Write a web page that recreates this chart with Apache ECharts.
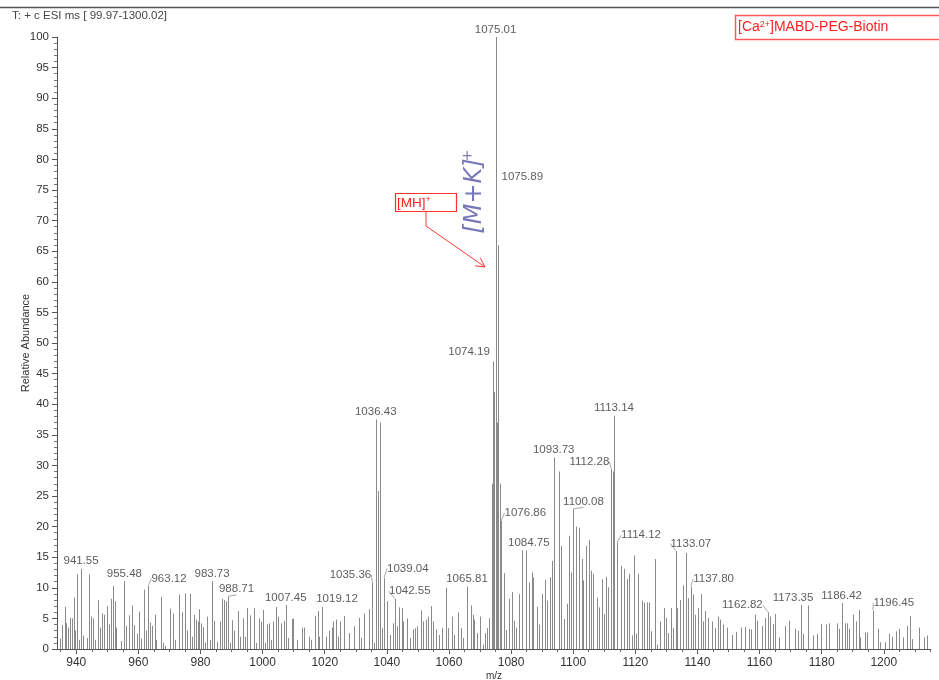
<!DOCTYPE html>
<html>
<head>
<meta charset="utf-8">
<script src="https://cdn.jsdelivr.net/npm/echarts@6/dist/echarts.min.js"></script>
<style>
  html, body { margin: 0; padding: 0; background: #fff; }
  #chart { width: 939px; height: 680px; }
</style>
</head>
<body>
<div id="chart"></div>
<script>
// Centroided ESI spectrum: m/z of each stick and its relative abundance (%)
const mz = [
  934.79, 935.5, 936.3, 936.8, 937.4, 938.1, 938.7, 939.2, 939.7, 940.2, 940.8, 941.55, 942.1, 943.4, 944.1, 944.8,
  945.3, 946.1, 947.1, 947.8, 948.4, 949.0, 949.8, 950.5, 951.2, 951.9, 952.4, 952.9, 954.3, 955.48, 956.0, 957.0,
  957.9, 958.6, 959.5, 960.1, 961.0, 961.7, 962.5, 963.12, 963.8, 964.4, 965.2, 965.8, 967.2, 967.9, 968.6, 970.2,
  971.1, 971.8, 973.0, 973.9, 975.0, 975.8, 976.5, 977.2, 977.9, 978.6, 979.1, 979.6, 980.3, 980.9, 981.5, 982.2,
  983.0, 983.73, 984.5, 985.3, 986.3, 987.0, 987.6, 988.1, 988.71, 989.4, 990.2, 990.9, 992.0, 992.7, 993.8, 994.4,
  995.0, 995.8, 997.3, 998.0, 998.8, 999.6, 1000.2, 1000.8, 1001.4, 1002.0, 1002.8, 1003.4, 1004.3, 1004.9, 1006.0, 1006.8,
  1007.45, 1008.3, 1009.4, 1009.9, 1011.0, 1012.7, 1013.4, 1014.9, 1015.5, 1016.9, 1017.8, 1018.3, 1019.12, 1020.4, 1021.3, 1022.3,
  1022.8, 1023.6, 1024.2, 1024.9, 1026.3, 1027.8, 1029.5, 1031.1, 1031.7, 1032.8, 1034.2, 1035.36, 1035.9, 1036.43, 1037.1, 1037.8,
  1038.6, 1039.04, 1039.98, 1041.0, 1041.9, 1042.55, 1043.2, 1043.9, 1044.8, 1045.3, 1046.4, 1047.5, 1048.3, 1049.1, 1049.8, 1050.9,
  1051.8, 1052.5, 1053.4, 1054.1, 1055.0, 1055.85, 1056.8, 1057.9, 1058.95, 1059.8, 1060.9, 1061.75, 1062.8, 1063.8, 1064.6, 1065.81,
  1067.0, 1067.65, 1068.2, 1068.9, 1070.0, 1070.9, 1071.6, 1072.2, 1072.9, 1073.8, 1074.0, 1074.19, 1074.55, 1075.01, 1075.4,
  1075.89, 1076.3, 1076.86, 1077.6, 1078.4, 1079.4, 1080.2, 1080.9, 1081.6, 1082.7, 1083.6, 1084.75, 1085.9, 1086.7,
  1087.2, 1088.3, 1089.1, 1090.0, 1090.9, 1091.7, 1092.6, 1093.3, 1093.73, 1095.3, 1096.0, 1097.1, 1098.0, 1098.6, 1099.4, 1100.08,
  1101.0, 1101.9, 1102.7, 1103.3, 1104.2, 1105.05, 1105.8, 1106.5, 1107.6, 1108.2, 1109.3, 1109.9, 1110.6, 1111.3, 1112.28, 1112.7,
  1113.14, 1114.12, 1115.4, 1116.4, 1117.2, 1118.1, 1119.05, 1119.7, 1120.2, 1121.0, 1122.0, 1122.8, 1123.65, 1124.4, 1125.1, 1126.4,
  1126.9, 1128.0, 1129.2, 1129.8, 1130.6, 1131.4, 1132.1, 1133.07, 1133.5, 1134.4, 1135.5, 1136.4, 1137.0, 1137.80, 1138.5, 1139.2,
  1140.1, 1141.1, 1141.8, 1142.5, 1143.5, 1144.6, 1145.7, 1146.5, 1147.3, 1148.3, 1149.6, 1151.0, 1152.3, 1154.0, 1155.4, 1156.7,
  1157.3, 1158.5, 1159.3, 1160.8, 1161.9, 1162.82, 1163.4, 1164.2, 1164.9, 1166.4, 1168.2, 1169.5, 1171.5, 1172.3, 1173.35, 1173.9,
  1175.5, 1177.3, 1178.4, 1179.7, 1181.4, 1182.4, 1184.9, 1185.6, 1186.42, 1187.55, 1188.3, 1188.9, 1190.2, 1191.0, 1192.0, 1192.4,
  1194.0, 1194.7, 1196.45, 1198.0, 1198.9, 1200.5, 1201.8, 1202.8, 1203.9, 1205.0, 1206.2, 1207.5, 1208.4, 1209.2, 1211.3, 1212.9,
  1213.8, 1215.1
];
const abundance = [
  1.7, 3.9, 6.9, 4.2, 3.5, 5.1, 5.0, 8.4, 3.0, 12.2, 1.5, 13.1, 2.2, 1.8, 12.2, 5.3,
  5.0, 1.5, 8.0, 3.5, 5.8, 5.6, 7.0, 4.0, 8.2, 10.3, 7.8, 3.5, 1.3, 11.1, 3.8, 5.5,
  7.1, 3.9, 2.5, 6.1, 1.7, 9.7, 3.0, 10.3, 4.3, 3.8, 5.6, 1.5, 8.5, 1.0, 0.5, 6.6,
  5.8, 1.5, 8.9, 6.0, 9.1, 3.0, 9.0, 2.0, 5.6, 4.8, 4.5, 6.5, 4.2, 3.6, 1.0, 5.3,
  1.5, 11.1, 4.6, 1.2, 4.5, 8.2, 8.0, 7.8, 8.6, 1.0, 4.7, 3.0, 6.2, 2.0, 5.0, 2.0,
  6.7, 5.5, 6.7, 1.0, 5.0, 4.5, 6.4, 1.0, 4.0, 4.2, 1.5, 4.5, 6.9, 5.3, 4.2, 4.6,
  7.2, 1.8, 4.9, 5.0, 1.5, 3.5, 3.5, 2.0, 1.5, 5.4, 6.2, 2.0, 6.9, 2.0, 3.0, 3.5,
  4.5, 4.8, 2.0, 4.5, 5.4, 2.6, 3.7, 5.1, 1.8, 5.8, 6.5, 10.9, 1.0, 37.5, 25.8, 37.0,
  3.4, 11.6, 7.8, 2.3, 4.2, 8.2, 3.7, 6.8, 6.7, 4.5, 5.0, 1.8, 3.2, 3.4, 3.7, 6.3,
  4.5, 4.8, 5.3, 7.0, 4.5, 3.2, 2.3, 3.4, 10.0, 3.4, 5.3, 2.3, 6.0, 3.4, 1.8, 10.2,
  7.1, 5.6, 4.8, 2.6, 5.3, 0.7, 2.6, 3.4, 5.0, 6.2, 27.0, 47.0, 42.0, 100.0, 37.0,
  66.0, 27.0, 21.0, 12.4, 3.1, 8.2, 9.3, 4.6, 3.5, 9.0, 16.1, 16.1, 10.9, 12.5,
  11.7, 6.9, 4.0, 9.0, 11.3, 7.9, 11.7, 14.4, 31.3, 29.0, 16.8, 4.9, 7.4, 18.5, 12.5, 22.9,
  20.0, 19.8, 14.7, 11.2, 16.9, 17.8, 12.8, 12.3, 8.4, 6.8, 11.4, 5.7, 11.8, 10.1, 29.4, 29.0,
  38.1, 17.4, 13.6, 13.1, 11.4, 12.3, 2.2, 15.3, 2.5, 12.3, 7.9, 7.6, 7.6, 7.6, 2.9, 14.7,
  0.7, 4.5, 6.7, 5.1, 2.6, 6.7, 3.4, 16.0, 6.7, 8.0, 10.4, 15.7, 8.3, 10.2, 8.9, 5.6,
  6.7, 9.0, 4.5, 6.2, 5.1, 4.5, 3.4, 5.3, 4.8, 4.0, 3.5, 2.3, 2.8, 3.5, 3.6, 3.3,
  3.2, 5.6, 4.6, 3.8, 5.1, 6.0, 5.3, 4.1, 5.7, 1.9, 3.8, 4.6, 3.3, 3.0, 7.2, 2.5,
  7.1, 2.2, 2.5, 4.1, 4.0, 4.2, 4.2, 3.3, 7.5, 4.2, 4.2, 3.3, 5.6, 4.5, 6.4, 1.9,
  2.7, 2.7, 6.3, 3.3, 1.1, 1.1, 2.5, 2.0, 2.9, 3.3, 1.9, 3.8, 5.4, 1.6, 3.5, 1.9,
  2.2, 1.4
];

// Peaks that carry an m/z annotation
const labelledPeaks = [
  941.55, 955.48, 963.12, 983.73, 988.71, 1007.45, 1019.12, 1035.36, 1036.43, 1039.04, 1042.55,
  1065.81, 1074.19, 1075.01, 1075.89, 1076.86, 1084.75, 1093.73, 1100.08, 1112.28, 1113.14,
  1114.12, 1133.07, 1137.80, 1162.82, 1173.35, 1186.42, 1196.45
];

// Axis ticks
const xTickLabels = [940, 960, 980, 1000, 1020, 1040, 1060, 1080, 1100, 1120, 1140, 1160, 1180, 1200];
const xMinorTicks = [935, 940, 945, 950, 955, 960, 965, 970, 975, 980, 985, 990, 995, 1000, 1005, 1010, 1015,
  1020, 1025, 1030, 1035, 1040, 1045, 1050, 1055, 1060, 1065, 1070, 1075, 1080, 1085, 1090, 1095, 1100,
  1105, 1110, 1115, 1120, 1125, 1130, 1135, 1140, 1145, 1150, 1155, 1160, 1165, 1170, 1175, 1180, 1185,
  1190, 1195, 1200, 1205, 1210, 1215];

// Where an annotation is pushed aside from its peak top (px), and whether a leader is drawn
const labelShift = {
  963.12: [21, 0, true], 988.71: [9, 0, true], 1019.12: [15, 0, false], 1035.36: [-22, 0, true],
  1039.04: [24, -2, true], 1042.55: [15, 0, true], 1074.19: [-24, -2, false], 1075.89: [24, -61, false],
  1076.86: [24, 0, true], 1084.75: [3, 0, false], 1100.08: [10, 0, true], 1112.28: [-22, 0, true],
  1114.12: [24, 0, true], 1133.07: [15, 0, true], 1137.80: [23, 0, true], 1162.82: [-26, 0, true],
  1173.35: [-8, 0, false], 1196.45: [21, 0, true]
};

const FONT = "'Liberation Sans', Arial, sans-serif";
const X_MIN = 933.8, X_MAX = 1215.2;

const chart = echarts.init(document.getElementById('chart'), null, { renderer: 'canvas' });

const sticks = mz.map((m, i) => [m, abundance[i]]);
const labelData = labelledPeaks.map(m => {
  const s = labelShift[m];
  return { value: [m, abundance[mz.indexOf(m)]], labelLine: { show: !!(s && s[2]) } };
});

// arrow from the [MH]+ box toward the molecular ion cluster
const arrowTip = [485, 267];
const arrowHead = [[475, 265.8], arrowTip, [480.4, 258.1]];

chart.setOption({
  animation: false,
  backgroundColor: '#fff',
  grid: { left: 57, right: 8, top: 37, bottom: 31, outerBoundsMode: 'none', containLabel: false },
  xAxis: [
    {
      type: 'value', min: X_MIN, max: X_MAX,
      name: 'm/z', nameLocation: 'middle', nameGap: 22, nameMoveOverlap: false,
      nameTextStyle: { fontFamily: FONT, fontSize: 10, color: '#333' },
      axisLine: { show: true, lineStyle: { color: '#555', width: 1 } },
      axisTick: { show: true, length: 5, customValues: xTickLabels, lineStyle: { color: '#555' } },
      axisLabel: { customValues: xTickLabels, formatter: v => String(v), fontFamily: FONT, fontSize: 12, color: '#333', margin: 8 },
      splitLine: { show: false }
    },
    {
      type: 'value', min: X_MIN, max: X_MAX, position: 'bottom',
      axisLine: { show: false },
      axisTick: { show: true, length: 3, customValues: xMinorTicks, lineStyle: { color: '#666' } },
      axisLabel: { show: false },
      splitLine: { show: false }
    }
  ],
  yAxis: {
    type: 'value', min: 0, max: 100, interval: 5,
    name: 'Relative Abundance', nameLocation: 'middle', nameGap: 26, nameMoveOverlap: false,
    nameTextStyle: { fontFamily: FONT, fontSize: 11, color: '#333' },
    axisLine: { show: true, lineStyle: { color: '#555', width: 1 } },
    axisTick: { show: true, length: 5, lineStyle: { color: '#555' } },
    minorTick: { show: true, splitNumber: 5, length: 3, lineStyle: { color: '#777' } },
    axisLabel: { fontFamily: FONT, fontSize: 11.5, color: '#333', margin: 8 },
    splitLine: { show: false }
  },
  series: [
    {
      type: 'custom',
      xAxisIndex: 0,
      data: sticks,
      silent: true,
      clip: true,
      renderItem: (params, api) => {
        const base = api.coord([api.value(0), 0]);
        const top = api.coord([api.value(0), api.value(1)]);
        const x = Math.round(base[0]) + 0.5;
        return {
          type: 'line',
          shape: { x1: x, y1: base[1], x2: x, y2: top[1] },
          style: { stroke: '#8a8a8a', lineWidth: 1 }
        };
      }
    },
    {
      type: 'scatter',
      xAxisIndex: 0,
      data: labelData,
      symbol: 'circle',
      symbolSize: 1,
      silent: true,
      itemStyle: { color: 'rgba(0,0,0,0)' },
      label: {
        show: true, position: 'top', distance: 1,
        formatter: p => p.value[0].toFixed(2),
        fontFamily: FONT, fontSize: 11.5, color: '#333'
      },
      labelLine: { show: false, lineStyle: { color: '#aaa', width: 1 } },
      labelLayout: p => {
        const s = labelShift[labelledPeaks[p.dataIndex]];
        return s ? { dx: s[0], dy: s[1] } : {};
      }
    }
  ],
  graphic: [
    { type: 'line', shape: { x1: 0, y1: 7.5, x2: 939, y2: 7.5 }, style: { stroke: '#555', lineWidth: 1.5 }, silent: true },
    { type: 'text', x: 12, y: 16, silent: true,
      style: { text: 'T: + c ESI ms [ 99.97-1300.02]', fontFamily: FONT, fontSize: 11.5, fill: '#444', verticalAlign: 'middle' } },
    { type: 'rect', shape: { x: 735.5, y: 15.5, width: 215, height: 24 }, silent: true,
      style: { fill: 'none', stroke: '#ff5a5a', lineWidth: 1.5 } },
    { type: 'text', x: 738, y: 27.5, silent: true,
      style: {
        text: '[Ca{sup|2+}]MABD-PEG-Biotin', fontFamily: FONT, fontSize: 14, fill: '#ff1f1f', verticalAlign: 'middle',
        rich: { sup: { fontFamily: FONT, fontSize: 9, fill: '#ff1f1f', verticalAlign: 'top', padding: [0, 0, 6, 0] } }
      } },
    { type: 'rect', shape: { x: 395.5, y: 193.5, width: 61, height: 18 }, silent: true,
      style: { fill: 'none', stroke: '#ff3030', lineWidth: 1.2 } },
    { type: 'text', x: 397, y: 203, silent: true,
      style: {
        text: '[MH]{sup|+}', fontFamily: FONT, fontSize: 13.5, fill: '#ff1f1f', verticalAlign: 'middle',
        rich: { sup: { fontFamily: FONT, fontSize: 9, fill: '#ff1f1f', verticalAlign: 'top', padding: [0, 0, 6, 0] } }
      } },
    { type: 'polyline', shape: { points: [[426, 211], [426, 226], arrowTip] }, silent: true,
      style: { fill: 'none', stroke: '#ff3b3b', lineWidth: 1 } },
    { type: 'polyline', shape: { points: arrowHead }, silent: true,
      style: { fill: 'none', stroke: '#ff3b3b', lineWidth: 1 } },
    { type: 'text', x: 475, y: 196, rotation: Math.PI / 2, silent: true,
      style: { text: '[M+K]', fontFamily: "'DejaVu Sans', sans-serif", fontStyle: 'italic', fontSize: 24,
        fill: '#5656a6', align: 'center', verticalAlign: 'middle', opacity: 0.8 } },
    { type: 'text', x: 467, y: 156, silent: true,
      style: { text: '+', fontFamily: "'DejaVu Sans', sans-serif", fontSize: 14,
        fill: '#5656a6', align: 'center', verticalAlign: 'middle', opacity: 0.8 } }
  ]
});
</script>
</body>
</html>
